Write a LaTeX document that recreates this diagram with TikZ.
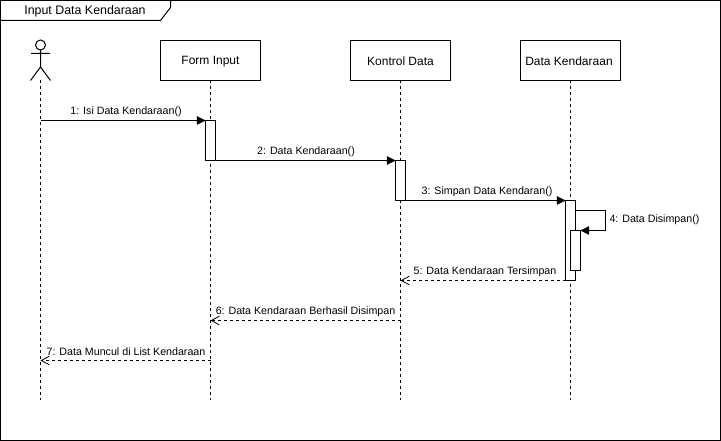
\documentclass[tikz,border=0pt]{standalone}
\usepackage{fontspec}
\setmainfont{Liberation Sans}
\usetikzlibrary{arrows.meta}
\tikzset{
  x=0.75pt,y=-0.75pt,
  line/.style={draw=black,line width=0.75pt},
  activ/.style={line,fill=white,minimum width=7.5pt,inner sep=0pt,outer sep=0pt},
  lifeline/.style={line,dash pattern=on 2.25pt off 2.25pt},
  sync/.style={line,-{Triangle[length=6.5pt,width=6.5pt,fill=black]}},
  reply/.style={line,dash pattern=on 2.25pt off 2.25pt,-{Straight Barb[length=6pt,width=6.5pt,line width=0.6pt]}},
  msg/.style={font=\fontsize{8}{10}\selectfont,inner sep=0pt,outer sep=0pt},
}
\begin{document}
\begin{tikzpicture}
\useasboundingbox (0,0) rectangle (721,441);
\draw[line] (0.5,0.5) rectangle (720.5,440.5);
\draw[line] (0.5,20.5) -- (160.5,20.5) -- (170.5,7.5) -- (170.5,0.5);
\node[msg,font=\fontsize{9.3}{11}\selectfont,anchor=center] (title) at (85,11.5) {Input Data Kendaraan};
% actor
\coordinate (actortop) at (40.5,80.5);
\coordinate (actorend) at (40.5,400.5);
\draw[line] (40.5,45) circle (5);
\draw[line] (40.5,50) -- (40.5,67) (31,53.5) -- (50,53.5) (30.5,80.5) -- (40.5,67) -- (50.5,80.5);
% lifelines
\draw[lifeline] (actortop) -- (actorend);
\coordinate (formtop) at (210.5,80.5);
\coordinate (ctrltop) at (400.5,80.5);
\coordinate (datatop) at (570.5,80.5);
\coordinate (formend) at (210.5,400.5);
\coordinate (ctrlend) at (400.5,400.5);
\coordinate (dataend) at (570.5,400.5);
\draw[lifeline] (formtop) -- (formend);
\draw[lifeline] (ctrltop) -- (ctrlend);
\draw[lifeline] (datatop) -- (dataend);
% lifeline boxes
\draw[line,fill=white] (160.5,40.5) rectangle (260.5,80.5);
\draw[line,fill=white] (350.5,40.5) rectangle (450.5,80.5);
\draw[line,fill=white] (520.5,40.5) rectangle (620.5,80.5);
\node[msg,font=\fontsize{9}{11}\selectfont] (form) at (210.5,61.5) {Form Input};
\node[msg,font=\fontsize{9}{11}\selectfont] (ctrl) at (400.5,61.5) {Kontrol Data};
\node[msg,font=\fontsize{9}{11}\selectfont] (data) at (569,61.5) {Data Kendaraan};
% activations
\node[activ,minimum height=30pt] (a1) at (210.5,140.5) {};
\node[activ,minimum height=30pt] (a2) at (400.5,180.5) {};
\node[activ,minimum height=60pt] (a3) at (570.5,240.5) {};
\node[activ,minimum height=30pt] (a4) at (575.5,250.5) {};
% free ends
\coordinate (l1) at (40.5,120.5);
\coordinate (l5) at (400.5,280.5);
\coordinate (r6) at (400.5,320.5);
\coordinate (l6) at (210.5,320.5);
\coordinate (r7) at (210.5,360.5);
\coordinate (l7) at (40.5,360.5);
\coordinate (s1) at (575.5,210.5);
% messages
\draw[sync] (l1) -- (a1.north west);
\draw[sync] (a1.south west) -- (a2.north west);
\draw[sync] (a2.south west) -- (a3.north west);
\draw[sync] (s1) -- (605.5,210.5) -- (605.5,230.5) -- (a4.north east);
\draw[reply] (a3.south west) -- (l5);
\draw[reply] (r6) -- (l6);
\draw[reply] (r7) -- (l7);
% labels
\node[msg] (m1) at (126,112) {1: Isi Data Kendaraan()};
\node[msg] (m2) at (306,152) {2: Data Kendaraan()};
\node[msg] (m3) at (487,192) {3: Simpan Data Kendaran()};
\node[msg,anchor=west] (m4) at (609.5,220) {4: Data Disimpan()};
\node[msg] (m5) at (485,272) {5: Data Kendaraan Tersimpan};
\node[msg] (m6) at (305.5,312) {6: Data Kendaraan Berhasil Disimpan};
\node[msg] (m7) at (126,352) {7: Data Muncul di List Kendaraan};
\end{tikzpicture}
\end{document}
